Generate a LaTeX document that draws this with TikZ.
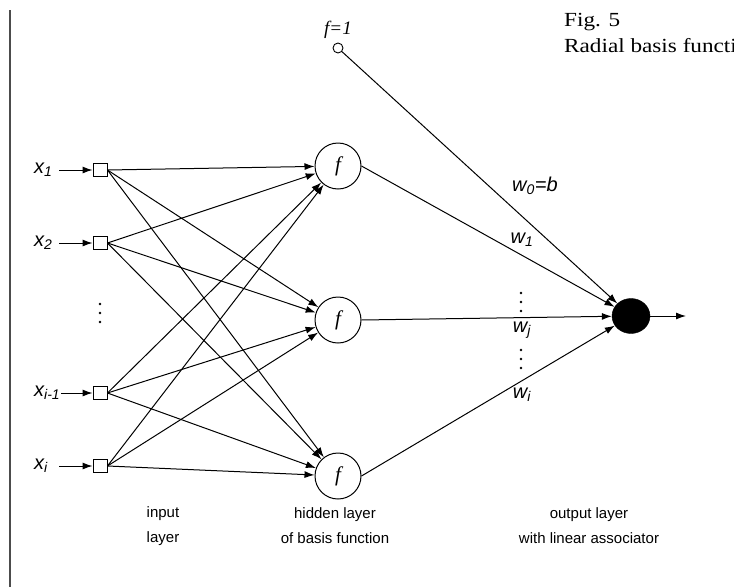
\documentclass[tikz,border=0pt]{standalone}
\usepackage{fontspec}
\setmainfont{Liberation Serif}
\setsansfont{Liberation Sans}
\newfontfamily\titlefont{Liberation Serif}[FakeStretch=1.16]
\usetikzlibrary{arrows.meta,shapes.geometric}
\begin{document}
\begin{tikzpicture}[x=1pt,y=-1pt,
  inp/.style={draw, rectangle, minimum width=14pt, minimum height=13pt, inner sep=0pt, line width=0.9pt},
  hid/.style={draw, circle, minimum size=46pt, inner sep=0pt, line width=1pt, font=\fontsize{21}{21}\selectfont\itshape},
  outn/.style={draw, fill=black, ellipse, minimum width=38pt, minimum height=35pt, inner sep=0pt},
  bias/.style={draw, circle, minimum size=10pt, inner sep=0pt, line width=0.9pt},
  conn/.style={-{Latex[length=10pt,width=7pt]}, line width=1pt},
  lab/.style={font=\sffamily\fontsize{20}{24}\selectfont\itshape, inner sep=0pt},
  captxt/.style={font=\sffamily\fontsize{15}{25}\selectfont, align=center, inner sep=0pt},
  dot/.style={fill=black, circle, inner sep=0pt, minimum size=2.6pt},
]
\useasboundingbox (0,0) rectangle (734,587);
\draw[line width=1.5pt, black!70] (10,10) -- (10,587);

% title
\node[anchor=west, font=\titlefont\fontsize{20}{26}\selectfont, align=left, inner sep=0pt] (title) at (564,33) {Fig. 5\\Radial basis function};

% input nodes
\node[inp] (i1) at (100,170) {};
\node[inp] (i2) at (100,243) {};
\node[inp] (i3) at (100,393) {};
\node[inp] (i4) at (100,466) {};

\node[lab, anchor=west] (x1) at (34,170) {x\textsubscript{1}};
\node[lab, anchor=west] (x2) at (34,243) {x\textsubscript{2}};
\node[lab, anchor=west] (x3) at (34,393) {x\textsubscript{i-1}};
\node[lab, anchor=west] (x4) at (34,466) {x\textsubscript{i}};

\coordinate (s1) at (59,170);
\coordinate (s2) at (59,243);
\coordinate (s3) at (61,393);
\coordinate (s4) at (59,466);
\foreach \k in {1,2,3,4} \draw[conn] (s\k) -- (i\k);

\node[dot] (d1) at (100,304) {};
\node[dot] (d2) at (100,313) {};
\node[dot] (d3) at (100,322) {};

% hidden nodes
\node[hid] (h1) at (338,166) {f};
\node[hid] (h2) at (338,320) {f};
\node[hid] (h3) at (338,476) {f};

\foreach \a in {1,2,3,4}
  \foreach \b in {1,2,3}
    \draw[conn] (i\a.east) -- (h\b);

% bias
\node[bias] (bs) at (338,48) {};
\node[font=\fontsize{19}{19}\selectfont\itshape, inner sep=0pt] (bl) at (338,30) {f=1};

% output
\node[outn] (o) at (631,316) {};
\coordinate (oe) at (686,316);
\draw[conn] (bs) -- (o);
\foreach \b in {1,2,3} \draw[conn] (h\b.east) -- (o);
\draw[conn] (o) -- (oe);

% weight labels
\node[lab] (w0) at (535,186) {w\textsubscript{0}=b};
\node[lab] (w1) at (522,240) {w\textsubscript{1}};
\node[dot] (e1) at (521,293) {};
\node[dot] (e2) at (521,302) {};
\node[dot] (e3) at (521,311) {};
\node[lab] (wj) at (522,330) {w\textsubscript{j}};
\node[dot] (f1) at (521,350) {};
\node[dot] (f2) at (521,359) {};
\node[dot] (f3) at (521,368) {};
\node[lab] (wi) at (522,395) {w\textsubscript{i}};

% captions
\node[captxt] (c1) at (163,526) {input\\layer};
\node[captxt] (c2) at (335,526) {hidden layer\\of basis function};
\node[captxt] (c3) at (589,526) {output layer\\with linear associator};
\end{tikzpicture}
\end{document}
